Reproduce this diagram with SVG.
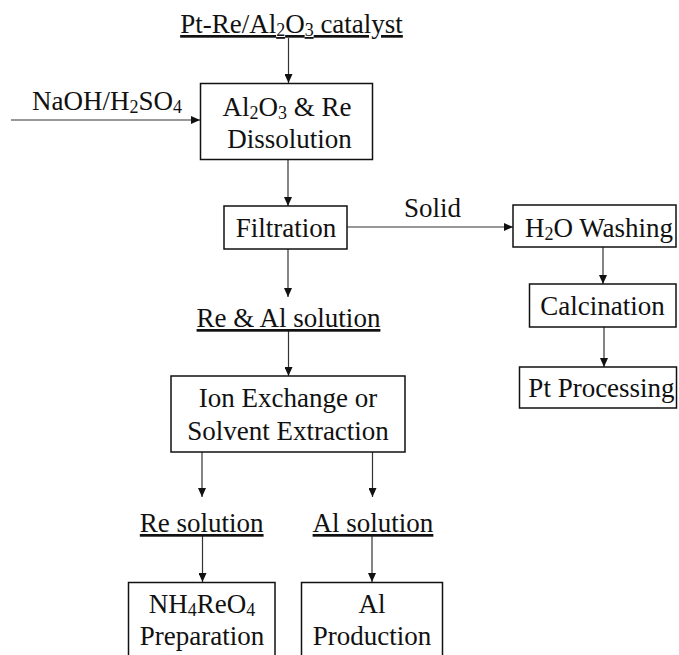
<svg xmlns="http://www.w3.org/2000/svg" width="679" height="655" viewBox="0 0 679 655">
<defs>
<marker id="arr" markerUnits="userSpaceOnUse" markerWidth="9" markerHeight="8" refX="9" refY="4" orient="auto">
<path d="M0,0 L9,4 L0,8 z" fill="#111"/>
</marker>
<style>
text{font-family:'Liberation Serif','Times New Roman',serif;font-size:27px;fill:#111;text-anchor:middle}
.box{fill:#fff;stroke:#111;stroke-width:1.5}
.c{stroke:#333;stroke-width:1.2;fill:none;marker-end:url(#arr)}
.u{text-decoration:underline}
.s{font-size:18px;baseline-shift:-3px}
</style>
</defs>
<rect width="679" height="655" fill="#fff"/>
<g id="connectors">
<line class="c" x1="288.5" y1="38" x2="288.5" y2="83"/>
<line class="c" x1="11" y1="120" x2="200" y2="120"/>
<line class="c" x1="288" y1="160" x2="288" y2="206"/>
<line class="c" x1="347" y1="227" x2="513" y2="227"/>
<line class="c" x1="288" y1="249" x2="288" y2="297"/>
<line class="c" x1="288.5" y1="331" x2="288.5" y2="376"/>
<line class="c" x1="603" y1="247" x2="603" y2="284"/>
<line class="c" x1="604" y1="327" x2="604" y2="367"/>
<line class="c" x1="202" y1="452" x2="202" y2="497"/>
<line class="c" x1="372.5" y1="452" x2="372.5" y2="497"/>
<line class="c" x1="202.5" y1="536" x2="202.5" y2="582"/>
<line class="c" x1="372" y1="536" x2="372" y2="582"/>
</g>
<g id="catalyst">
<text class="u" x="291.5" y="33">Pt-Re/Al<tspan class="s">2</tspan>O<tspan class="s">3</tspan> catalyst</text>
</g>
<g id="naoh">
<text x="107" y="110">NaOH/H<tspan class="s">2</tspan>SO<tspan class="s">4</tspan></text>
</g>
<g id="dissolution">
<rect class="box" x="200.5" y="83.5" width="172" height="76"/>
<text x="287" y="116">Al<tspan class="s">2</tspan>O<tspan class="s">3</tspan> &amp; Re</text>
<text x="289.5" y="148">Dissolution</text>
</g>
<g id="filtration">
<rect class="box" x="224" y="206" width="123" height="43"/>
<text x="286" y="237">Filtration</text>
</g>
<g id="solid">
<text x="432.5" y="217">Solid</text>
</g>
<g id="washing">
<rect class="box" x="513" y="205" width="163" height="42"/>
<text x="599" y="237">H<tspan class="s">2</tspan>O Washing</text>
</g>
<g id="calcination">
<rect class="box" x="529.5" y="284" width="146.5" height="43"/>
<text x="602.5" y="315">Calcination</text>
</g>
<g id="pt">
<rect class="box" x="519.5" y="367" width="157" height="41"/>
<text x="601.5" y="397">Pt Processing</text>
</g>
<g id="real">
<text class="u" x="288.5" y="327">Re &amp; Al solution</text>
</g>
<g id="ion">
<rect class="box" x="171" y="376" width="234" height="76"/>
<text x="288" y="407">Ion Exchange or</text>
<text x="288" y="440">Solvent Extraction</text>
</g>
<g id="resol">
<text class="u" x="201.7" y="532">Re solution</text>
</g>
<g id="alsol">
<text class="u" x="373" y="532">Al solution</text>
</g>
<g id="nh4">
<rect class="box" x="128.5" y="582.5" width="146.5" height="90"/>
<text x="202" y="613">NH<tspan class="s">4</tspan>ReO<tspan class="s">4</tspan></text>
<text x="202" y="645">Preparation</text>
</g>
<g id="alprod">
<rect class="box" x="301.5" y="582.5" width="141" height="90"/>
<text x="372" y="613">Al</text>
<text x="372" y="645">Production</text>
</g>
</svg>
